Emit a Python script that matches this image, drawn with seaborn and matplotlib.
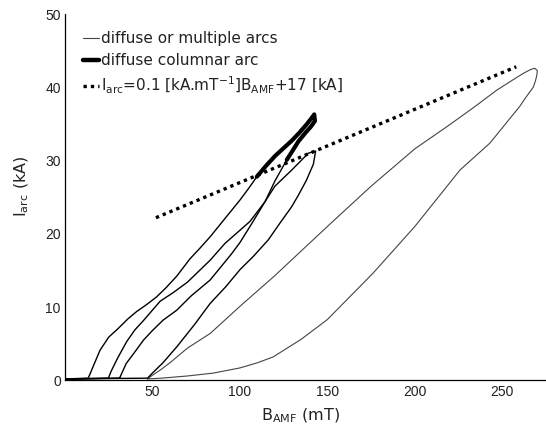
import numpy as np
import pandas as pd
import matplotlib
matplotlib.use("Agg")
import matplotlib.pyplot as plt
from matplotlib.lines import Line2D
import seaborn as sns

# ---- data ----
# outer loop, thin grey (diffuse or multiple arcs)
outer_B = [47.2, 50, 55, 60, 70, 83, 100, 120, 150, 175, 185.8, 200, 218.2, 233.4, 246.8, 256, 262, 266, 268.5, 270,
           269.8, 269.0, 267.7, 264, 260, 243, 225.8, 200, 176, 150, 135, 119, 110, 100, 85, 70, 55, 47.2]
outer_I = [0.2, 0.7, 1.5, 2.4, 4.4, 6.4, 10.1, 14.3, 21.0, 26.5, 28.7, 31.6, 34.6, 37.2, 39.6, 41.0, 41.9, 42.4, 42.6, 42.3,
           41.7, 40.9, 40.0, 38.8, 37.4, 32.4, 28.7, 21.0, 14.6, 8.3, 5.6, 3.2, 2.4, 1.7, 1.0, 0.6, 0.3, 0.2]

# loop A (rising branch thin, columnar part thick, falling branch thin)
loopA_up_B = [0, 13.3, 17, 20, 25, 30.5, 36, 41, 47, 52.4, 58, 63.8, 71.5, 77, 83, 91.5, 100, 105, 109.7]
loopA_up_I = [0.2, 0.3, 2.4, 4.1, 5.9, 7.1, 8.4, 9.4, 10.4, 11.4, 12.7, 14.2, 16.6, 18.0, 19.6, 22.1, 24.6, 26.2, 27.8]
col_B = [109.7, 115, 120, 125, 129.6, 134, 138, 141, 142.5, 142.9, 140.5, 137.5, 133.4, 130, 126.8]
col_I = [27.8, 29.3, 30.6, 31.7, 32.7, 33.8, 34.9, 35.8, 36.3, 35.4, 34.6, 33.8, 32.6, 31.3, 30.1]
loopA_down_B = [126.8, 120, 114.4, 105.8, 91.5, 83, 70, 62, 54.4, 45, 40, 35.3, 30, 26.5, 24.8, 0]
loopA_down_I = [30.1, 27.2, 24.4, 21.7, 18.7, 16.4, 13.4, 12.0, 10.8, 8.2, 6.9, 5.3, 3.0, 1.3, 0.3, 0.2]

# loop B (thin black)
loopB_B = [0, 31.2, 35, 40, 44.9, 50, 56, 64, 72, 83, 95, 100, 106.8, 114.4, 120, 129.6, 135, 139.1, 143.3,
           142, 138, 133.5, 129.6, 123, 116.3, 108, 100, 92, 83, 74, 64, 56, 50, 47.2, 0]
loopB_I = [0.2, 0.3, 2.3, 3.9, 5.5, 6.8, 8.2, 9.6, 11.5, 13.7, 17.2, 18.8, 21.4, 24.4, 26.5, 28.7, 30.0, 31.0, 31.3,
           29.5, 27.3, 25.3, 23.7, 21.5, 19.2, 17.0, 15.1, 12.8, 10.5, 7.6, 4.6, 2.4, 1.0, 0.3, 0.2]

# fitted line I = 0.1 B + 17 (end points)
fit_B = [52, 258]
fit_I = [22.2, 42.8]

xticks = [50, 100, 150, 200, 250]
yticks = [0, 10, 20, 30, 40, 50]

sns.set_theme(style="white")
plt.rcParams['font.family'] = ['DejaVu Sans']
plt.rcParams['mathtext.fontset'] = 'dejavusans'

fig = plt.figure(figsize=(5.46, 4.25), dpi=100)
ax = fig.add_axes([0.119, 0.105, 0.881, 0.862])

def draw(bx, iy, **kw):
    df = pd.DataFrame({"B": bx, "I": iy})
    sns.lineplot(data=df, x="B", y="I", sort=False, estimator=None, ax=ax, **kw)

draw(outer_B, outer_I, color="#444444", linewidth=0.8)
draw(loopA_up_B, loopA_up_I, color="black", linewidth=1.0)
draw(loopA_down_B, loopA_down_I, color="black", linewidth=1.0)
draw(loopB_B, loopB_I, color="black", linewidth=1.0)
draw(col_B, col_I, color="black", linewidth=3.0, solid_capstyle="round", solid_joinstyle="round")
fit_df = pd.DataFrame({"B": fit_B, "I": fit_I})
sns.lineplot(data=fit_df, x="B", y="I", ax=ax, color="black", linewidth=2.4,
             linestyle=(0, (1, 1.2)), dash_capstyle="butt")

ax.set_xlim(0, 275)
ax.set_ylim(0, 50)
ax.set_xticks(xticks)
ax.set_yticks(yticks)
ax.tick_params(axis="both", direction="in", length=3, width=0.8, color="black",
               labelsize=10, labelcolor="#222222", pad=3)
for lab in ax.get_xticklabels() + ax.get_yticklabels():
    lab.set_family("Liberation Sans")
for s in ["top", "right"]:
    ax.spines[s].set_visible(False)
for s in ["left", "bottom"]:
    ax.spines[s].set_color("black")
    ax.spines[s].set_linewidth(0.9)

ax.set_xlabel(r"B$_{\rm AMF}$ (mT)", fontsize=11.5, color="#222222")
ax.xaxis.set_label_coords(0.49, -0.097, transform=ax.transAxes)
ax.xaxis.label.set_va("center")
ax.set_ylabel(r"I$_{\rm arc}$ (kA)", fontsize=11.5, color="#222222")
ax.yaxis.set_label_coords(-0.07, 0.53)

handles = [
    Line2D([], [], color="#444444", linewidth=0.8),
    Line2D([], [], color="black", linewidth=3.2),
    Line2D([], [], color="black", linewidth=2.4, linestyle=(0, (1, 1.2)), dash_capstyle="butt"),
]
labels = ["diffuse or multiple arcs", "diffuse columnar arc",
          r"I$_{\rm arc}$=0.1 [kA.mT$^{-1}$]B$_{\rm AMF}$+17 [kA]"]
leg = ax.legend(handles, labels, loc="upper left", bbox_to_anchor=(0.025, 0.97), frameon=False,
                fontsize=11, handlelength=1.05, handletextpad=0.15, labelspacing=0.45,
                borderaxespad=0)
for t in leg.get_texts():
    t.set_color("#222222")

fig.savefig("out.png", dpi=100)
